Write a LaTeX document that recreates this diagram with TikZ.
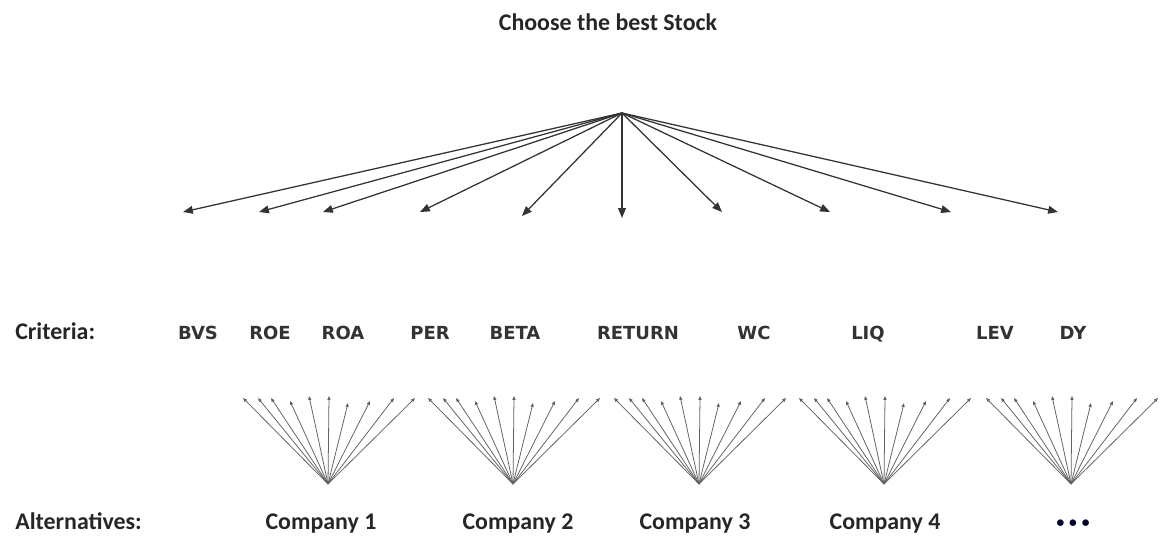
\documentclass[tikz,border=0pt]{standalone}
\usepackage{fontspec}
\setmainfont{Carlito}
\newfontfamily\critfont{DejaVu Sans}
\usetikzlibrary{arrows.meta}

\tikzset{
	headtext/.style={anchor=base,inner sep=0pt,font=\fontsize{17}{20}\selectfont\bfseries,text=black!85},
	rowtext/.style={anchor=base west,inner sep=0pt,font=\fontsize{17}{20}\selectfont\bfseries,text=black!85},
	crittext/.style={anchor=base,inner sep=0pt,font=\critfont\fontsize{12.8}{15}\selectfont\bfseries,text=black!80},
	dottext/.style={anchor=base,inner sep=0pt,font=\fontsize{11}{13}\selectfont\bfseries,text=black!85!blue},
	mainarrow/.style={draw=black!80,line width=0.9pt,-{Triangle[length=7pt,width=5.5pt]}},
	fanline/.style={draw=black!62,line width=0.55pt,-{Triangle[length=2.8pt,width=2.2pt]}}
}

\begin{document}
\begin{tikzpicture}[x=0.025cm,y=-0.025cm]
	\useasboundingbox (0,0) rectangle (1161,538);
	
	\path (608,31) node[headtext] (goal) {Choose the best Stock};
	
	\path (622,113) coordinate (top);
	\path (183,212) coordinate (a1);
	\path (259,212) coordinate (a2);
	\path (323,212) coordinate (a3);
	\path (420,212) coordinate (a4);
	\path (522,216) coordinate (a5);
	\path (622,218) coordinate (a6);
	\path (722,212) coordinate (a7);
	\path (830,212) coordinate (a8);
	\path (951,212) coordinate (a9);
	\path (1058,212) coordinate (a10);
	\draw[mainarrow] (top) -- (a1);
	\draw[mainarrow] (top) -- (a2);
	\draw[mainarrow] (top) -- (a3);
	\draw[mainarrow] (top) -- (a4);
	\draw[mainarrow] (top) -- (a5);
	\draw[mainarrow] (top) -- (a6);
	\draw[mainarrow] (top) -- (a7);
	\draw[mainarrow] (top) -- (a8);
	\draw[mainarrow] (top) -- (a9);
	\draw[mainarrow] (top) -- (a10);
	
	\path (15,339) node[rowtext] (crit) {Criteria:};
	\path (198,339) node[crittext] (bvs) {BVS};
	\path (270,339) node[crittext] (roe) {ROE};
	\path (343,339) node[crittext] (roa) {ROA};
	\path (430,339) node[crittext] (per) {PER};
	\path (515,339) node[crittext] (beta) {BETA};
	\path (638,339) node[crittext] (ret) {RETURN};
	\path (754,339) node[crittext] (wc) {WC};
	\path (868,339) node[crittext] (liq) {LIQ};
	\path (995,339) node[crittext] (lev) {LEV};
	\path (1073,339) node[crittext] (dy) {DY};
	
	% fan 1
	\path (328,484) coordinate (f1);
	\path (243,398) coordinate (f1t1);
	\path (258,398) coordinate (f1t2);
	\path (271,398) coordinate (f1t3);
	\path (290,401) coordinate (f1t4);
	\path (309,396) coordinate (f1t5);
	\path (329,396) coordinate (f1t6);
	\path (348,403) coordinate (f1t7);
	\path (370,401) coordinate (f1t8);
	\path (394,398) coordinate (f1t9);
	\path (415,398) coordinate (f1t10);
	\draw[fanline] (f1) -- (f1t1);
	\draw[fanline] (f1) -- (f1t2);
	\draw[fanline] (f1) -- (f1t3);
	\draw[fanline] (f1) -- (f1t4);
	\draw[fanline] (f1) -- (f1t5);
	\draw[fanline] (f1) -- (f1t6);
	\draw[fanline] (f1) -- (f1t7);
	\draw[fanline] (f1) -- (f1t8);
	\draw[fanline] (f1) -- (f1t9);
	\draw[fanline] (f1) -- (f1t10);
	
	% fan 2
	\path (513,484) coordinate (f2);
	\path (428,398) coordinate (f2t1);
	\path (443,398) coordinate (f2t2);
	\path (456,398) coordinate (f2t3);
	\path (475,401) coordinate (f2t4);
	\path (494,396) coordinate (f2t5);
	\path (514,396) coordinate (f2t6);
	\path (533,403) coordinate (f2t7);
	\path (555,401) coordinate (f2t8);
	\path (579,398) coordinate (f2t9);
	\path (600,398) coordinate (f2t10);
	\draw[fanline] (f2) -- (f2t1);
	\draw[fanline] (f2) -- (f2t2);
	\draw[fanline] (f2) -- (f2t3);
	\draw[fanline] (f2) -- (f2t4);
	\draw[fanline] (f2) -- (f2t5);
	\draw[fanline] (f2) -- (f2t6);
	\draw[fanline] (f2) -- (f2t7);
	\draw[fanline] (f2) -- (f2t8);
	\draw[fanline] (f2) -- (f2t9);
	\draw[fanline] (f2) -- (f2t10);
	
	% fan 3
	\path (699,484) coordinate (f3);
	\path (614,398) coordinate (f3t1);
	\path (629,398) coordinate (f3t2);
	\path (642,398) coordinate (f3t3);
	\path (661,401) coordinate (f3t4);
	\path (680,396) coordinate (f3t5);
	\path (700,396) coordinate (f3t6);
	\path (719,403) coordinate (f3t7);
	\path (741,401) coordinate (f3t8);
	\path (765,398) coordinate (f3t9);
	\path (786,398) coordinate (f3t10);
	\draw[fanline] (f3) -- (f3t1);
	\draw[fanline] (f3) -- (f3t2);
	\draw[fanline] (f3) -- (f3t3);
	\draw[fanline] (f3) -- (f3t4);
	\draw[fanline] (f3) -- (f3t5);
	\draw[fanline] (f3) -- (f3t6);
	\draw[fanline] (f3) -- (f3t7);
	\draw[fanline] (f3) -- (f3t8);
	\draw[fanline] (f3) -- (f3t9);
	\draw[fanline] (f3) -- (f3t10);
	
	% fan 4
	\path (884,484) coordinate (f4);
	\path (799,398) coordinate (f4t1);
	\path (814,398) coordinate (f4t2);
	\path (827,398) coordinate (f4t3);
	\path (846,401) coordinate (f4t4);
	\path (865,396) coordinate (f4t5);
	\path (885,396) coordinate (f4t6);
	\path (904,403) coordinate (f4t7);
	\path (926,401) coordinate (f4t8);
	\path (950,398) coordinate (f4t9);
	\path (971,398) coordinate (f4t10);
	\draw[fanline] (f4) -- (f4t1);
	\draw[fanline] (f4) -- (f4t2);
	\draw[fanline] (f4) -- (f4t3);
	\draw[fanline] (f4) -- (f4t4);
	\draw[fanline] (f4) -- (f4t5);
	\draw[fanline] (f4) -- (f4t6);
	\draw[fanline] (f4) -- (f4t7);
	\draw[fanline] (f4) -- (f4t8);
	\draw[fanline] (f4) -- (f4t9);
	\draw[fanline] (f4) -- (f4t10);
	
	% fan 5
	\path (1071,484) coordinate (f5);
	\path (986,398) coordinate (f5t1);
	\path (1001,398) coordinate (f5t2);
	\path (1014,398) coordinate (f5t3);
	\path (1033,401) coordinate (f5t4);
	\path (1052,396) coordinate (f5t5);
	\path (1072,396) coordinate (f5t6);
	\path (1091,403) coordinate (f5t7);
	\path (1113,401) coordinate (f5t8);
	\path (1137,398) coordinate (f5t9);
	\path (1158,398) coordinate (f5t10);
	\draw[fanline] (f5) -- (f5t1);
	\draw[fanline] (f5) -- (f5t2);
	\draw[fanline] (f5) -- (f5t3);
	\draw[fanline] (f5) -- (f5t4);
	\draw[fanline] (f5) -- (f5t5);
	\draw[fanline] (f5) -- (f5t6);
	\draw[fanline] (f5) -- (f5t7);
	\draw[fanline] (f5) -- (f5t8);
	\draw[fanline] (f5) -- (f5t9);
	\draw[fanline] (f5) -- (f5t10);
	
	\path (15,529) node[rowtext] (alt) {Alternatives:};
	\path (321,529) node[headtext] (c1) {Company 1};
	\path (518,529) node[headtext] (c2) {Company 2};
	\path (695,529) node[headtext] (c3) {Company 3};
	\path (885,529) node[headtext] (c4) {Company 4};
	\path (1073,527) node[dottext] (more) {•\hspace{3.5pt}•\hspace{3.5pt}•};
\end{tikzpicture}
\end{document}
